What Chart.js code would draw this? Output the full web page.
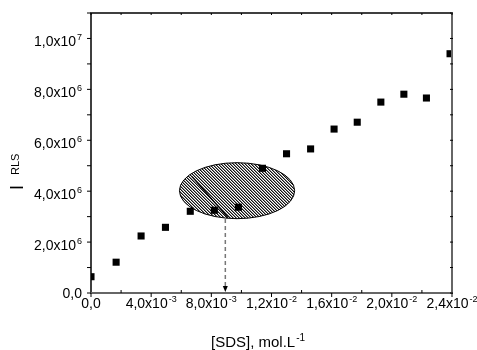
<!DOCTYPE html>
<html>
<head>
<meta charset="utf-8">
<script src="https://cdn.jsdelivr.net/npm/chart.js@4"></script>
<style>
  body { margin: 0; background: #fff; }
  #wrap { width: 477px; height: 350px; }
</style>
</head>
<body>
<div id="wrap"><canvas id="myChart"></canvas></div>
<script>
// data
const sdsConc = [0, 0.00167, 0.00333, 0.00495, 0.0066, 0.0082, 0.0098, 0.0114, 0.013, 0.0146, 0.01616, 0.0177, 0.01927, 0.0208, 0.0223, 0.02387];
const rlsIntensity = [0.64e6, 1.21e6, 2.24e6, 2.58e6, 3.21e6, 3.25e6, 3.37e6, 4.90e6, 5.47e6, 5.66e6, 6.44e6, 6.71e6, 7.50e6, 7.81e6, 7.66e6, 9.40e6];

// tick labels: [value, mantissa, exponent]
const xTickLabels = [[0, "0,0", ""], [0.004, "4,0x10", "-3"], [0.008, "8,0x10", "-3"], [0.012, "1,2x10", "-2"], [0.016, "1,6x10", "-2"], [0.020, "2,0x10", "-2"], [0.024, "2,4x10", "-2"]];
const yTickLabels = [[0, "0,0", ""], [2e6, "2,0x10", "6"], [4e6, "4,0x10", "6"], [6e6, "6,0x10", "6"], [8e6, "8,0x10", "6"], [1e7, "1,0x10", "7"]];

// annotation: hatched ellipse + arrow down to the x axis
const ellipseCenter = [0.00971, 4.02e6];
const ellipseRadius = [0.00383, 1.10e6];
const arrowX = 0.00893;
const arrowFrom = 2.91e6;

const FONT = "'Liberation Sans', Arial, sans-serif";

function supText(ctx, x, y, main, sup, size, supSize, align) {
  ctx.font = size + "px " + FONT;
  let w1 = ctx.measureText(main).width;
  ctx.font = supSize + "px " + FONT;
  let w2 = sup ? ctx.measureText(sup).width + 1 : 0;
  let total = w1 + w2;
  let x0 = x;
  if (align === "right") x0 = x - total;
  if (align === "center") x0 = x - total / 2;
  ctx.textAlign = "left";
  ctx.textBaseline = "alphabetic";
  ctx.font = size + "px " + FONT;
  ctx.fillText(main, x0, y);
  if (sup) {
    ctx.font = supSize + "px " + FONT;
    ctx.fillText(sup, x0 + w1 + 1, y - size * 0.42);
  }
}

const annotation = {
  id: "annotation",
  beforeDatasetsDraw(chart) {
    const ctx = chart.ctx;
    const xs = chart.scales.x, ys = chart.scales.y;
    const cx = xs.getPixelForValue(ellipseCenter[0]);
    const cy = ys.getPixelForValue(ellipseCenter[1]);
    const rx = xs.getPixelForValue(ellipseCenter[0] + ellipseRadius[0]) - cx;
    const ry = cy - ys.getPixelForValue(ellipseCenter[1] + ellipseRadius[1]);

    // hatch pattern, "\" direction, pixel based
    const pc = document.createElement("canvas");
    pc.width = 3; pc.height = 3;
    const p = pc.getContext("2d");
    p.fillStyle = "#fff";
    p.fillRect(0, 0, 3, 3);
    for (let i = 0; i < 3; i++) {
      p.fillStyle = "#111";
      p.fillRect(i, i, 1, 1);
      p.fillStyle = "#888";
      p.fillRect((i + 1) % 3, i, 1, 1);
    }

    ctx.save();
    ctx.beginPath();
    ctx.ellipse(cx, cy, rx, ry, 0, 0, Math.PI * 2);
    ctx.fillStyle = ctx.createPattern(pc, "repeat");
    ctx.fill();
    ctx.clip();
    // darker stroke inside
    ctx.strokeStyle = "#000";
    ctx.lineWidth = 1.3;
    ctx.beginPath();
    ctx.moveTo(cx - 45, cy - 14);
    ctx.lineTo(cx - 9, cy + 27);
    ctx.stroke();
    ctx.restore();

    ctx.save();
    ctx.beginPath();
    ctx.ellipse(cx, cy, rx, ry, 0, 0, Math.PI * 2);
    ctx.strokeStyle = "#000";
    ctx.lineWidth = 1;
    ctx.stroke();

    // dashed arrow
    const ax = xs.getPixelForValue(arrowX);
    const ay0 = ys.getPixelForValue(arrowFrom);
    const ay1 = ys.getPixelForValue(0);
    ctx.strokeStyle = "#777";
    ctx.lineWidth = 1.5;
    ctx.setLineDash([4, 3]);
    ctx.beginPath();
    ctx.moveTo(ax, ay0);
    ctx.lineTo(ax, ay1 - 6);
    ctx.stroke();
    ctx.setLineDash([]);
    ctx.fillStyle = "#000";
    ctx.beginPath();
    ctx.moveTo(ax - 2.5, ay1 - 7);
    ctx.lineTo(ax + 2.5, ay1 - 7);
    ctx.lineTo(ax, ay1 - 1);
    ctx.closePath();
    ctx.fill();
    ctx.restore();
  },
  afterDraw(chart) {
    const ctx = chart.ctx;
    const xs = chart.scales.x, ys = chart.scales.y;
    const a = chart.chartArea;
    ctx.save();
    // frame
    ctx.lineWidth = 1.5;
    ctx.strokeStyle = "#000";
    ctx.beginPath();
    ctx.moveTo(a.left, a.bottom); ctx.lineTo(a.left, a.top); ctx.lineTo(a.right, a.top);
    ctx.stroke();
    ctx.strokeStyle = "#666";
    ctx.lineWidth = 2;
    ctx.beginPath();
    ctx.moveTo(a.left - 1, a.bottom); ctx.lineTo(a.right, a.bottom); ctx.lineTo(a.right, a.top - 0.75);
    ctx.stroke();

    // ticks
    ctx.lineWidth = 1;
    ctx.strokeStyle = "#000";
    ctx.beginPath();
    for (let v = 0; v <= 0.0241; v += 0.002) {
      const px = xs.getPixelForValue(v);
      const major = Math.round(v / 0.002) % 2 === 0;
      if (major) { ctx.moveTo(px, a.bottom); ctx.lineTo(px, a.bottom + 4); }
      else { ctx.moveTo(px, a.bottom); ctx.lineTo(px, a.bottom - 3); }
      ctx.moveTo(px, a.top); ctx.lineTo(px, a.top + 2);
    }
    for (let v = 0; v <= 1.1e7; v += 1e6) {
      const py = ys.getPixelForValue(v);
      ctx.moveTo(a.left, py); ctx.lineTo(a.left - 4, py);
      ctx.moveTo(a.right - 2, py); ctx.lineTo(a.right + 1, py);
    }
    ctx.stroke();

    // tick labels
    ctx.fillStyle = "#000";
    xTickLabels.forEach(t => {
      supText(ctx, xs.getPixelForValue(t[0]), a.bottom + 15, t[1], t[2], 14, 9, "center");
    });
    yTickLabels.forEach(t => {
      const py = ys.getPixelForValue(t[0]);
      supText(ctx, a.left - 9, py + (t[2] ? 7.5 : 5), t[1], t[2], 14, 9, "right");
    });

    // axis titles
    supText(ctx, 258, 347, "[SDS], mol.L", "-1", 15, 10, "center");
    ctx.save();
    ctx.translate(23, 190);
    ctx.rotate(-Math.PI / 2);
    ctx.textAlign = "left";
    ctx.textBaseline = "alphabetic";
    ctx.font = "18px " + FONT;
    ctx.fillText("I", 0, 0);
    ctx.font = "11px " + FONT;
    ctx.fillText("RLS", 15, -4);
    ctx.restore();
    ctx.restore();
  }
};

new Chart("myChart", {
  type: "scatter",
  data: {
    datasets: [{
      data: sdsConc.map((x, i) => ({ x: x, y: rlsIntensity[i] })),
      pointStyle: "rect",
      pointRadius: 5,
      pointHoverRadius: 5,
      backgroundColor: "#000",
      borderColor: "#000",
      borderWidth: 0,
      clip: 0
    }]
  },
  options: {
    responsive: true,
    maintainAspectRatio: false,
    animation: false,
    events: [],
    layout: { padding: { top: 13, right: 25, left: 0, bottom: 0 } },
    plugins: { legend: { display: false }, tooltip: { enabled: false } },
    scales: {
      x: {
        type: "linear", min: 0, max: 0.024,
        grid: { display: false }, border: { display: false },
        ticks: { display: false },
        afterFit(s) { s.height = 57; }
      },
      y: {
        type: "linear", min: 0, max: 1.1e7,
        grid: { display: false }, border: { display: false },
        ticks: { display: false },
        afterFit(s) { s.width = 91; }
      }
    }
  },
  plugins: [annotation]
});
</script>
</body>
</html>
